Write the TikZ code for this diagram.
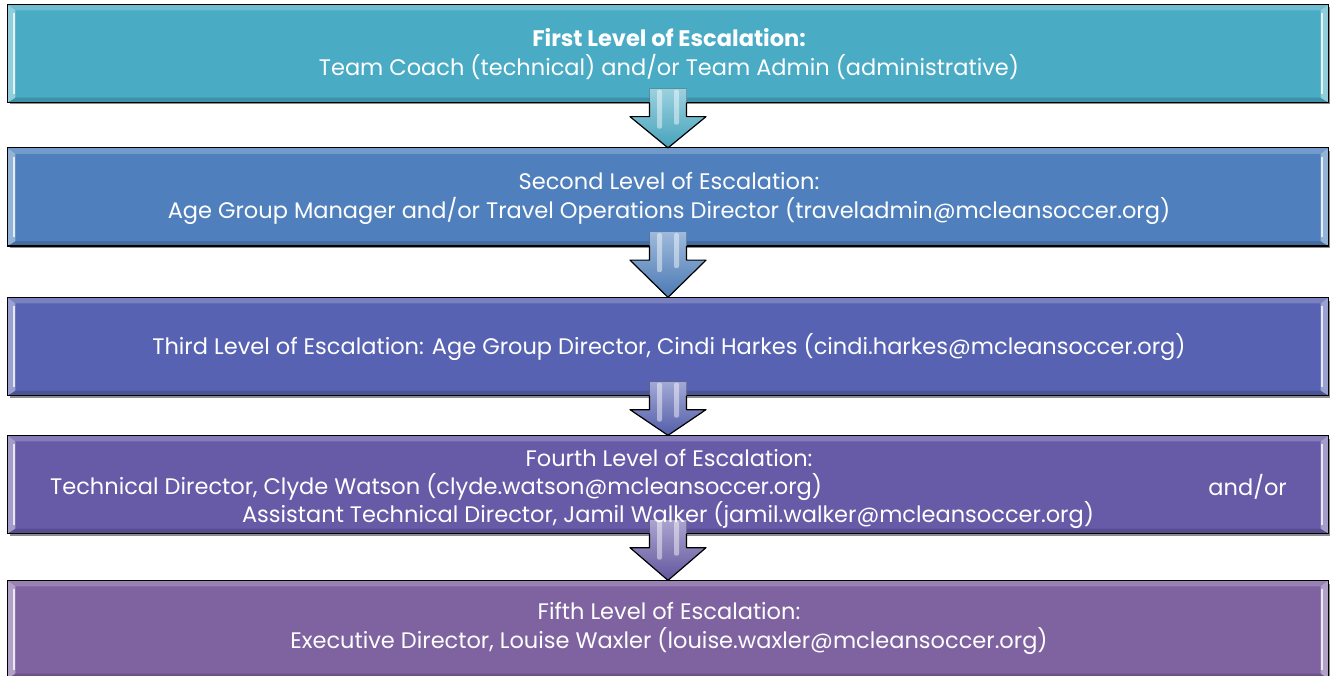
\documentclass[tikz,border=0pt]{standalone}
\usepackage{fontspec}
\setmainfont{Poppins}
\usetikzlibrary{calc,shadows}
\definecolor{cA}{HTML}{4AABC5}
\definecolor{cB}{HTML}{4F80BD}
\definecolor{cC}{HTML}{5762B2}
\definecolor{cD}{HTML}{675BA7}
\definecolor{cE}{HTML}{7F63A1}
\tikzset{
  levelbox/.style={draw=black, line width=1.3pt, inner sep=0pt, minimum width=1320pt, minimum height=97pt,
    drop shadow={shadow xshift=2pt, shadow yshift=-2.5pt, opacity=0.45, fill=black}},
  leveltext/.style={text=white, align=center, inner sep=0pt, font=\fontsize{22.5}{29}\selectfont},
  arrowline/.style={draw=black, line width=1.2pt, line join=round},
}
% bevel decoration of a box: #1 node name, #2 colour
\newcommand\bevelbox[2]{%
  \fill[#2!80!white] (#1.north west) -- (#1.north east) -- ($(#1.north east)+(-8,6)$) -- ($(#1.north west)+(8,6)$) -- cycle;
  \fill[#2!85!black] (#1.south west) -- (#1.south east) -- ($(#1.south east)+(-8,-5)$) -- ($(#1.south west)+(8,-5)$) -- cycle;
  \fill[#2!60!white] (#1.north west) -- ($(#1.north west)+(8,6)$) -- ($(#1.south west)+(8,-5)$) -- (#1.south west) -- cycle;
  \fill[#2!60!white] (#1.north east) -- ($(#1.north east)+(-8,6)$) -- ($(#1.south east)+(-8,-5)$) -- (#1.south east) -- cycle;
  \fill[white!85!#2] ($(#1.north west)+(6,9)$) rectangle ($(#1.south west)+(8,-9)$);
  \fill[white!85!#2] ($(#1.north east)+(-6,9)$) rectangle ($(#1.south east)+(-8,-9)$);
  \draw[black, line width=1.3pt] (#1.north west) rectangle (#1.south east);
}
% block arrow from box #1 to box #2, colour #3
\newcommand\levelarrow[3]{%
  \fill[top color=#3!55!white, bottom color=#3!95!black]
    ($(#1.south)+(-18.5,-14)$) -- ($(#1.south)+(18.5,-14)$) -- ($(#1.south)+(18.5,14)$) --
    ($(#1.south)+(38,14)$) -- (#2.north) -- ($(#1.south)+(-38,14)$) -- ($(#1.south)+(-18.5,14)$) -- cycle;
  \fill[white, opacity=0.45, rounded corners=2pt] ($(#1.south)+(-11,-13)$) rectangle ($(#1.south)+(-6,26)$);
  \fill[white, opacity=0.45, rounded corners=2pt] ($(#1.south)+(6,-13)$) rectangle ($(#1.south)+(11,22)$);
  \draw[arrowline] ($(#1.south)+(-18.5,0)$) -- ($(#1.south)+(-18.5,14)$) -- ($(#1.south)+(-38,14)$) -- (#2.north) --
    ($(#1.south)+(38,14)$) -- ($(#1.south)+(18.5,14)$) -- ($(#1.south)+(18.5,0)$);
}
\begin{document}
\begin{tikzpicture}[x=1pt,y=-1pt]
\useasboundingbox (0,0) rectangle (1330,676);
\fill[white] (0,0) rectangle (1330,676);

\node[levelbox, fill=cA] (b1) at (668,53.5) {};
\node[levelbox, fill=cB] (b2) at (668,197) {};
\node[levelbox, fill=cC] (b3) at (668,346.5) {};
\node[levelbox, fill=cD] (b4) at (668,484.5) {};
\node[levelbox, fill=cE] (b5) at (668,629.5) {};
\bevelbox{b1}{cA}
\bevelbox{b2}{cB}
\bevelbox{b3}{cC}
\bevelbox{b4}{cD}
\bevelbox{b5}{cE}

\levelarrow{b1}{b2}{cA}
\levelarrow{b2}{b3}{cB}
\levelarrow{b3}{b4}{cC}
\levelarrow{b4}{b5}{cD}

\node[leveltext] (t1) at (669,54) {\textbf{First Level of Escalation:}\\Team Coach (technical) and/or Team Admin (administrative)};
\node[leveltext] (t2) at (669,198) {Second Level of Escalation:\\Age Group Manager and/or Travel Operations Director (traveladmin@mcleansoccer.org)};
\node[leveltext] (t3) at (669,347) {Third Level of Escalation: Age Group Director, Cindi Harkes (cindi.harkes@mcleansoccer.org)};
\node[leveltext] (t4a) at (669,458) {Fourth Level of Escalation:};
\node[leveltext, anchor=west] (t4b) at (50,487) {Technical Director, Clyde Watson (clyde.watson@mcleansoccer.org)};
\node[leveltext, anchor=east] (t4c) at (1287,487) {and/or};
\node[leveltext] (t4d) at (668,515) {Assistant Technical Director, Jamil Walker (jamil.walker@mcleansoccer.org)};
\node[leveltext] (t5) at (669,628) {Fifth Level of Escalation:\\Executive Director, Louise Waxler (louise.waxler@mcleansoccer.org)};
\end{tikzpicture}
\end{document}
